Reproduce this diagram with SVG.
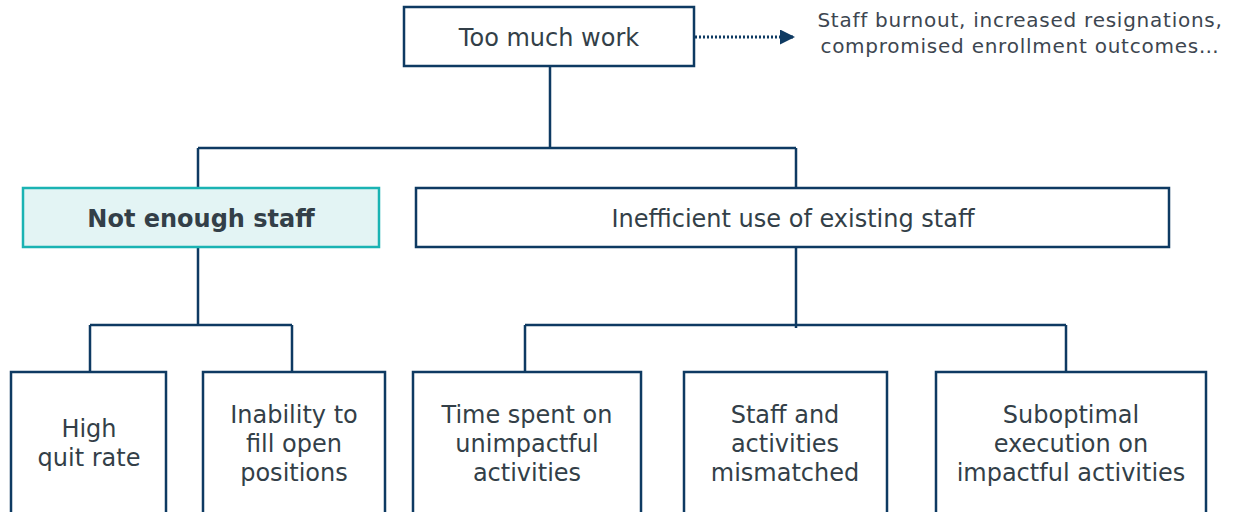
<svg xmlns="http://www.w3.org/2000/svg" width="1237" height="512" viewBox="0 0 1237 512">
  <defs>
    <style>
      .box { fill: #ffffff; stroke: #0e3a62; stroke-width: 2.5; }
      .hl { fill: #e3f4f4; stroke: #1ab3b3; stroke-width: 2.5; }
      .wire { fill: none; stroke: #0e3a62; stroke-width: 2.5; }
      .dots { fill: none; stroke: #0e3a62; stroke-width: 3; stroke-dasharray: 2 2; }
      .t { font-family: "DejaVu Sans", Verdana, sans-serif; font-size: 24px; fill: #333f48; text-anchor: middle; }
      .b { font-weight: bold; }
      .note { font-family: "DejaVu Sans", Verdana, sans-serif; font-size: 20px; letter-spacing: 0.75px; fill: #3d4650; text-anchor: middle; }
    </style>
    <marker id="tri" viewBox="0 0 10 10" refX="10" refY="5" markerWidth="15" markerHeight="15" markerUnits="userSpaceOnUse" orient="auto">
      <path d="M0,0 L10,5 L0,10 Z" fill="#0e3a62"/>
    </marker>
  </defs>

  <!-- tree connectors -->
  <g id="connectors">
    <path class="wire" d="M550,66 V148 M198,148 H796 M198,148 V188 M796,148 V188"/>
    <path class="wire" d="M198,247 V325 M90,325 H292 M90,325 V372 M292,325 V372"/>
    <path class="wire" d="M796,247 V328 M525,325 H1066 M525,325 V372 M1066,325 V372"/>
    <path class="dots" d="M695,37 H795" marker-end="url(#tri)"/>
  </g>

  <g id="n-root">
    <rect class="box" x="404" y="7" width="290" height="59"/>
    <text class="t" x="549" y="46">Too much work</text>
  </g>

  <g id="n-effects">
    <text class="note" x="1020" y="27">Staff burnout, increased resignations,</text>
    <text class="note" x="1020" y="53">compromised enrollment outcomes…</text>
  </g>

  <g id="n-staff">
    <rect class="hl" x="23" y="188" width="356" height="59"/>
    <text class="t b" x="201" y="227">Not enough staff</text>
  </g>

  <g id="n-inefficient">
    <rect class="box" x="416" y="188" width="753" height="59"/>
    <text class="t" x="793" y="227">Inefficient use of existing staff</text>
  </g>

  <g id="n-quit">
    <rect class="box" x="11" y="372" width="155" height="150"/>
    <text class="t" x="89" y="437">High</text>
    <text class="t" x="89" y="466">quit rate</text>
  </g>

  <g id="n-fill">
    <rect class="box" x="203" y="372" width="182" height="150"/>
    <text class="t" x="294" y="423">Inability to</text>
    <text class="t" x="294" y="452">fill open</text>
    <text class="t" x="294" y="481">positions</text>
  </g>

  <g id="n-time">
    <rect class="box" x="413" y="372" width="228" height="150"/>
    <text class="t" x="527" y="423">Time spent on</text>
    <text class="t" x="527" y="452">unimpactful</text>
    <text class="t" x="527" y="481">activities</text>
  </g>

  <g id="n-mismatch">
    <rect class="box" x="684" y="372" width="203" height="150"/>
    <text class="t" x="785" y="423">Staff and</text>
    <text class="t" x="785" y="452">activities</text>
    <text class="t" x="785" y="481">mismatched</text>
  </g>

  <g id="n-execution">
    <rect class="box" x="936" y="372" width="270" height="150"/>
    <text class="t" x="1071" y="423">Suboptimal</text>
    <text class="t" x="1071" y="452">execution on</text>
    <text class="t" x="1071" y="481">impactful activities</text>
  </g>
</svg>
